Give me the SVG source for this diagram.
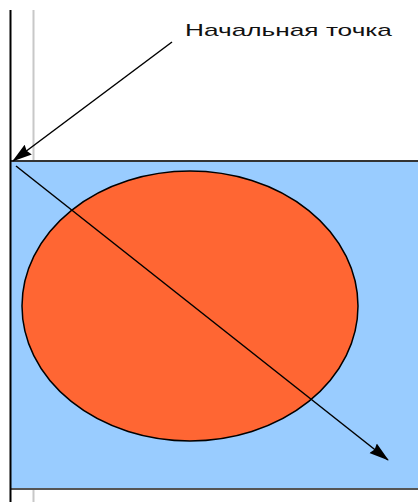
<svg xmlns="http://www.w3.org/2000/svg" width="418" height="502" viewBox="0 0 418 502">
<style>
.ln{stroke:#000;stroke-width:1.5;fill:none}
.lbl{font-family:"Liberation Sans",Arial,sans-serif;font-size:17px;fill:#111}
</style>
<defs>
<marker id="ah" viewBox="0 0 20 14" refX="19" refY="7" markerWidth="20" markerHeight="14" markerUnits="userSpaceOnUse" orient="auto">
<path d="M0,1 L20,7 L0,13 L2,7 Z" fill="#000"/>
</marker>
</defs>
<rect width="418" height="502" fill="#fff"/>
<line x1="33.5" y1="10" x2="33.5" y2="502" stroke="#c8c8c8" stroke-width="2"/>
<g id="rect">
<rect x="11" y="161" width="410" height="328" fill="#99ccff"/>
<line x1="11" y1="161" x2="418" y2="161" stroke="#333" stroke-width="2"/>
<line x1="11" y1="489" x2="418" y2="489" stroke="#555" stroke-width="2"/>
</g>
<line x1="10.5" y1="10" x2="10.5" y2="502" stroke="#000" stroke-width="2"/>
<g id="ellipse">
<ellipse cx="190" cy="306" rx="168" ry="135" fill="#ff6633" stroke="#000" stroke-width="1.5"/>
</g>
<g id="label">
<text class="lbl" x="185" y="36" textLength="207" lengthAdjust="spacingAndGlyphs">Начальная точка</text>
</g>
<g id="connectors">
<line class="ln" x1="172" y1="42" x2="13" y2="161" marker-end="url(#ah)"/>
<line class="ln" x1="16" y1="166" x2="388" y2="460" marker-end="url(#ah)"/>
</g>
</svg>
